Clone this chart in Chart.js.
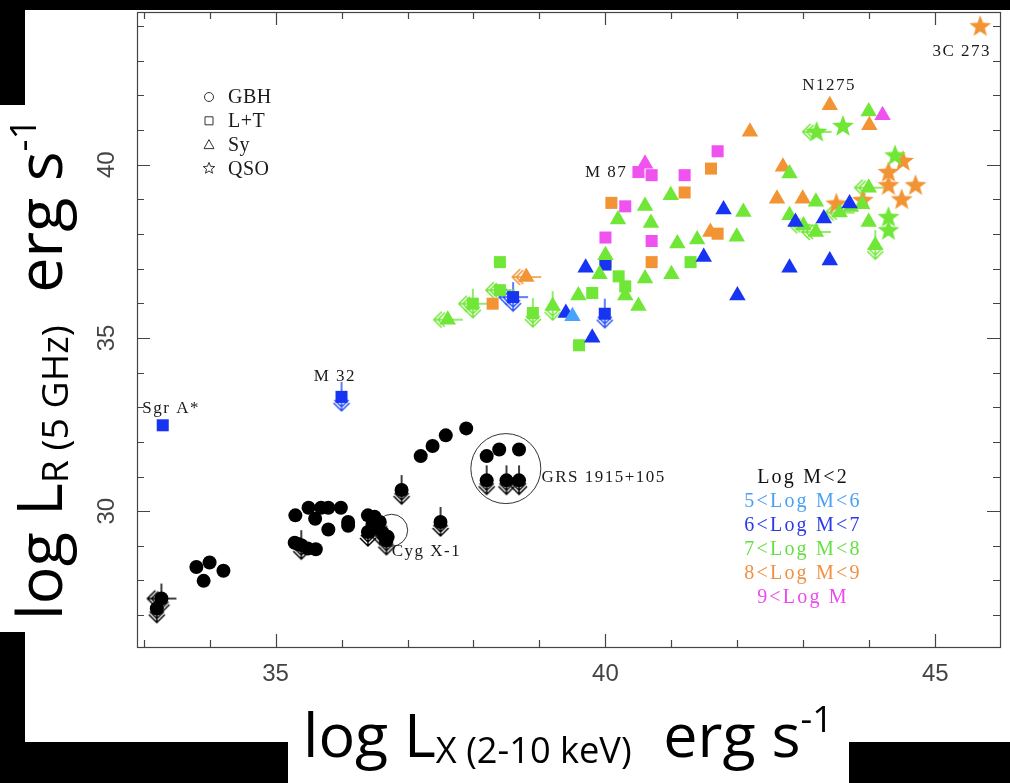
<!DOCTYPE html>
<html>
<head>
<meta charset="utf-8">
<script src="https://cdn.jsdelivr.net/npm/chart.js@4.4.1/dist/chart.umd.min.js"></script>
<style>
  html, body { margin: 0; padding: 0; background: #fff; }
  canvas { display: block; }
</style>
</head>
<body>
<canvas id="myChart" width="1010" height="783"></canvas>
<script>
// axis ranges (log units)
const xMin = 32.9, xMax = 45.98;
const yMin = 26.08, yMax = 44.41;
const xTickLabels = ['35', '40', '45'];
const yTickLabels = ['30', '35', '40'];

// galactic black holes (black circles)
const gbh = [
  [33.27, 27.48], [33.20, 27.19],
  [33.80, 28.39], [34.00, 28.52], [33.91, 27.99], [34.21, 28.28],
  [35.30, 29.88], [35.50, 30.10], [35.60, 29.78], [35.69, 30.10], [35.80, 30.10], [35.99, 30.10],
  [35.80, 29.47], [36.10, 29.69], [36.10, 29.58],
  [35.29, 29.09], [35.39, 29.02], [35.49, 28.92], [35.61, 28.90], [35.34, 29.05],
  [36.40, 29.88], [36.50, 29.84], [36.58, 29.69], [36.40, 29.40], [36.55, 29.50], [36.63, 29.36],
  [36.70, 29.26], [36.68, 29.15], [36.47, 29.62],
  [36.91, 30.61],
  [37.20, 31.59], [37.38, 31.88], [37.58, 32.19], [37.89, 32.39],
  [38.20, 31.59], [38.39, 31.78], [38.69, 31.78], [38.20, 30.89], [38.50, 30.89], [38.69, 30.89],
  [37.50, 29.69]
];

// LINERs + transition objects (squares), by mass bin
const ltBlue = [[33.29, 32.48], [36.00, 33.30], [38.60, 36.18], [39.99, 35.70], [40.00, 37.12]];
const ltGreen = [[38.40, 37.19], [38.40, 36.38], [37.99, 35.99], [38.90, 35.72], [39.60, 34.79],
  [39.80, 36.30], [40.20, 36.78], [40.30, 36.49], [41.29, 37.19]];
const ltOrange = [[38.29, 35.99], [40.00, 37.19], [40.70, 37.19], [41.70, 38.01], [41.20, 39.20],
  [41.60, 39.89], [40.09, 38.90]];
const ltMagenta = [[40.00, 37.90], [40.70, 37.80], [40.50, 39.79], [40.70, 39.70], [41.20, 39.70],
  [41.70, 40.39], [40.30, 38.80]];

// Seyferts (triangles)
const syLight = [[39.50, 35.63]];
const syBlue = [[39.40, 35.72], [39.80, 35.01], [39.70, 37.03], [41.49, 37.34], [41.79, 38.71],
  [42.79, 37.03], [42.00, 36.23], [43.40, 37.24], [43.31, 38.45], [43.70, 38.88], [42.88, 38.35]];
const syGreen = [[37.61, 35.53], [39.20, 35.92], [39.59, 36.23], [40.00, 37.39], [39.91, 36.84],
  [40.30, 36.23], [40.50, 35.92], [40.60, 36.72], [41.00, 36.84], [41.09, 37.73], [41.39, 37.84],
  [40.99, 39.12], [40.60, 38.81], [40.19, 38.42], [40.69, 38.32], [42.09, 38.64], [41.99, 37.92],
  [42.79, 39.75], [42.79, 38.54], [43.19, 38.93], [43.00, 38.25], [43.19, 38.06], [43.99, 41.54],
  [43.99, 39.34], [43.89, 38.86], [43.99, 38.35], [44.09, 37.68], [43.55, 38.62], [43.72, 38.78]];
const syOrange = [[38.80, 36.76], [43.40, 41.72], [42.19, 40.95], [44.00, 41.14], [42.69, 39.94],
  [42.60, 39.02], [42.99, 39.02], [41.59, 38.06]];
const syMagenta = [[40.60, 40.03], [44.20, 41.43]];

// quasars (stars)
const qsoGreen = [[43.20, 40.95], [43.60, 41.12], [44.39, 40.27], [44.29, 38.49], [44.29, 38.11]];
const qsoOrange = [[45.68, 44.00], [44.51, 40.11], [44.29, 39.79], [44.29, 39.41], [44.70, 39.41],
  [44.49, 39.00], [43.90, 38.98], [43.50, 38.88]];

// upper limits
const downBlack = [[33.27, 27.48], [33.20, 27.19], [35.39, 29.02], [36.40, 29.40], [36.58, 29.45],
  [36.68, 29.15], [36.91, 30.61], [37.50, 29.69], [38.20, 30.89], [38.50, 30.89], [38.69, 30.89]];
const leftBlack = [[33.27, 27.48]];
const downGreen = [[37.99, 35.99], [38.90, 35.72], [39.20, 35.92], [44.09, 37.68]];
const leftGreen = [[37.99, 35.99], [37.61, 35.53], [38.40, 36.38], [43.20, 40.95], [43.99, 39.34],
  [43.00, 38.25], [43.19, 38.06], [43.55, 38.62]];
const downBlue = [[36.00, 33.30], [38.60, 36.18], [39.99, 35.70]];
const leftBlue = [[38.60, 36.18]];
const leftOrange = [[38.80, 36.76]];

// circled sources (Cyg X-1, GRS 1915+105)
const rings = [[36.76, 29.45], [38.49, 31.23]];

// source names
const nameText = ['Sgr A*', 'M 32', 'Cyg X-1', 'GRS 1915+105', 'M 87', 'N1275', '3C 273'];
const nameX = [32.98, 35.90, 36.76, 39.03, 39.69, 43.39, 45.40];
const nameY = [32.97, 33.88, 28.85, 30.97, 39.77, 42.29, 43.28];
const nameAlign = ['left', 'center', 'left', 'left', 'left', 'center', 'center'];

const typeNames = ['GBH', 'L+T', 'Sy', 'QSO'];
const massNames = ['Log M<2', '5<Log M<6', '6<Log M<7', '7<Log M<8', '8<Log M<9', '9<Log M'];

const cBlack = '#000000';
const cLight = '#4aa2ff';
const cBlue = '#1634f2';
const cGreen = '#70e636';
const cOrange = '#f29434';
const cMagenta = '#f052f0';
const massColors = ['#111111', '#4aa0f5', '#2a3ae8', '#66e040', '#f09040', '#ee48ee'];

function arrowImage(color, dir) {
  const c = document.createElement('canvas');
  c.width = 34; c.height = 34;
  const g = c.getContext('2d');
  g.strokeStyle = color;
  g.lineWidth = 1.5;
  g.beginPath();
  if (dir === 'down') {
    g.moveTo(17, 2); g.lineTo(17, 31);
    g.moveTo(9, 23); g.lineTo(17, 31); g.lineTo(25, 23);
    g.moveTo(10, 20); g.lineTo(17, 27); g.lineTo(24, 20);
  } else {
    g.moveTo(32, 17); g.lineTo(3, 17);
    g.moveTo(11, 9); g.lineTo(3, 17); g.lineTo(11, 25);
    g.moveTo(14, 10); g.lineTo(7, 17); g.lineTo(14, 24);
  }
  g.stroke();
  return c;
}

function starPath(g, cx, cy, ro, ri) {
  g.beginPath();
  for (let i = 0; i < 10; i++) {
    const r = i % 2 === 0 ? ro : ri;
    const a = -Math.PI / 2 + i * Math.PI / 5;
    const px = cx + r * Math.cos(a), py = cy + r * Math.sin(a);
    if (i === 0) g.moveTo(px, py); else g.lineTo(px, py);
  }
  g.closePath();
}

function starImage(color) {
  const c = document.createElement('canvas');
  c.width = 26; c.height = 26;
  const g = c.getContext('2d');
  g.fillStyle = color;
  starPath(g, 13, 13.5, 11.5, 4.8);
  g.fill();
  return c;
}

const pts = a => a.map(p => ({ x: p[0], y: p[1] }));

function ds(label, arr, style, color, radius, order) {
  return {
    label: label,
    data: pts(arr),
    pointStyle: style,
    pointRadius: radius,
    pointHoverRadius: radius,
    backgroundColor: color,
    borderColor: color,
    borderWidth: 0,
    order: order
  };
}

function drawRich(c, segs, family, target) {
  let total = 0;
  segs.forEach(s => { c.font = s.size + 'px ' + family; total += c.measureText(s.t).width; });
  const k = target / total;
  let x = 0;
  segs.forEach(s => {
    c.font = (s.size * k) + 'px ' + family;
    c.fillText(s.t, x, s.dy * k);
    x += c.measureText(s.t).width;
  });
}

const decor = {
  id: 'decor',
  beforeDraw(chart) {
    const c = chart.ctx;
    c.save();
    c.fillStyle = '#fff';
    c.fillRect(0, 0, chart.width, chart.height);
    c.fillStyle = '#000';
    c.fillRect(0, 0, 1010, 10);
    c.fillRect(0, 0, 25, 105);
    c.fillRect(0, 632, 25, 151);
    c.fillRect(0, 742, 288, 41);
    c.fillRect(849, 742, 161, 41);
    c.restore();
  },
  afterDraw(chart) {
    const c = chart.ctx;
    const a = chart.chartArea;
    const xs = chart.scales.x, ys = chart.scales.y;
    c.save();
    // frame
    c.strokeStyle = '#444';
    c.lineWidth = 1.2;
    c.strokeRect(a.left + 0.5, a.top + 0.5, a.right - a.left, a.bottom - a.top);
    // inward ticks on all four sides
    c.beginPath();
    for (let v = Math.ceil(xMin); v <= Math.floor(xMax); v++) {
      const p = Math.round(xs.getPixelForValue(v)) + 0.5;
      const len = v % 5 === 0 ? 13 : 7;
      c.moveTo(p, a.bottom); c.lineTo(p, a.bottom - len);
      c.moveTo(p, a.top); c.lineTo(p, a.top + len);
    }
    for (let v = Math.ceil(yMin); v <= Math.floor(yMax); v++) {
      const p = Math.round(ys.getPixelForValue(v)) + 0.5;
      const len = v % 5 === 0 ? 13 : 7;
      c.moveTo(a.left, p); c.lineTo(a.left + len, p);
      c.moveTo(a.right, p); c.lineTo(a.right - len, p);
    }
    c.stroke();

    // tick labels
    c.fillStyle = '#444';
    c.font = '24px "Liberation Sans"';
    c.textAlign = 'center';
    c.textBaseline = 'middle';
    xTickLabels.forEach(t => {
      c.fillText(t, xs.getPixelForValue(Number(t)), a.bottom + 27);
    });
    yTickLabels.forEach(t => {
      c.save();
      c.translate(a.left - 30, ys.getPixelForValue(Number(t)));
      c.rotate(-Math.PI / 2);
      c.fillText(t, 0, 0);
      c.restore();
    });

    // source names
    c.fillStyle = '#1a1a1a';
    c.font = '17px "Liberation Serif"';
    c.letterSpacing = '1.5px';
    c.textBaseline = 'middle';
    nameText.forEach((t, i) => {
      c.textAlign = nameAlign[i];
      c.fillText(t, xs.getPixelForValue(nameX[i]), ys.getPixelForValue(nameY[i]));
    });

    // symbol key (top left)
    c.font = '20px "Liberation Serif"';
    c.letterSpacing = '0.5px';
    c.textAlign = 'left';
    c.strokeStyle = '#333';
    c.lineWidth = 1;
    typeNames.forEach((t, i) => {
      const y = 97 + i * 23.8;
      const x = 209;
      c.beginPath();
      if (i === 0) c.arc(x, y, 4.5, 0, Math.PI * 2);
      else if (i === 1) c.rect(x - 4, y - 4, 8, 8);
      else if (i === 2) { c.moveTo(x, y - 5); c.lineTo(x + 5, y + 4); c.lineTo(x - 5, y + 4); c.closePath(); }
      else starPath(c, x, y, 6, 2.6);
      c.stroke();
      c.fillStyle = '#1a1a1a';
      c.fillText(t, 228, y + 1);
    });

    // mass key (bottom right)
    c.font = '20px "Liberation Serif"';
    c.letterSpacing = '2.2px';
    c.textAlign = 'center';
    massNames.forEach((t, i) => {
      c.fillStyle = massColors[i];
      c.fillText(t, 803, 478 + i * 24);
    });
    c.letterSpacing = '0px';

    // axis titles
    c.fillStyle = '#000';
    c.textAlign = 'left';
    c.textBaseline = 'alphabetic';
    const fam = '"Open Sans"';
    c.save();
    c.translate(303, 757);
    drawRich(c, [
      { t: 'log L', size: 64, dy: 0 },
      { t: 'X (2-10 keV)', size: 38, dy: 6 },
      { t: '  erg s', size: 64, dy: 0 },
      { t: '-1', size: 38, dy: -26 }
    ], fam, 530);
    c.restore();
    c.save();
    c.translate(62, 620);
    c.rotate(-Math.PI / 2);
    drawRich(c, [
      { t: 'log L', size: 64, dy: 0 },
      { t: 'R (5 GHz)', size: 38, dy: 6 },
      { t: '  erg s', size: 64, dy: 0 },
      { t: '-1', size: 38, dy: -26 }
    ], fam, 502);
    c.restore();
    c.restore();
  }
};

const arrowDownBlack = arrowImage(cBlack, 'down');
const arrowLeftBlack = arrowImage(cBlack, 'left');
const arrowDownGreen = arrowImage(cGreen, 'down');
const arrowLeftGreen = arrowImage(cGreen, 'left');
const arrowDownBlue = arrowImage('#2a55f5', 'down');
const arrowLeftBlue = arrowImage('#2a55f5', 'left');
const arrowLeftOrange = arrowImage(cOrange, 'left');

const ringSet = ds('rings', rings, 'circle', 'rgba(0,0,0,0)', 10, 5);
ringSet.pointRadius = [16, 35];
ringSet.pointHoverRadius = [16, 35];
ringSet.borderColor = '#333';
ringSet.borderWidth = 1;

const ctx = document.getElementById('myChart');
new Chart(ctx, {
  type: 'scatter',
  data: {
    datasets: [
      ringSet,
      ds('down black', downBlack, arrowDownBlack, cBlack, 10, 4),
      ds('left black', leftBlack, arrowLeftBlack, cBlack, 10, 4),
      ds('down green', downGreen, arrowDownGreen, cGreen, 10, 4),
      ds('left green', leftGreen, arrowLeftGreen, cGreen, 10, 4),
      ds('down blue', downBlue, arrowDownBlue, cBlue, 10, 4),
      ds('left blue', leftBlue, arrowLeftBlue, cBlue, 10, 4),
      ds('left orange', leftOrange, arrowLeftOrange, cOrange, 10, 4),
      ds('GBH', gbh, 'circle', cBlack, 7, 2),
      ds('L+T 6-7', ltBlue, 'rect', cBlue, 8.5, 2),
      ds('L+T 7-8', ltGreen, 'rect', cGreen, 8.5, 2),
      ds('L+T 8-9', ltOrange, 'rect', cOrange, 8.5, 2),
      ds('L+T 9+', ltMagenta, 'rect', cMagenta, 8.5, 2),
      ds('Sy 5-6', syLight, 'triangle', cLight, 9.5, 1),
      ds('Sy 6-7', syBlue, 'triangle', cBlue, 9.5, 1),
      ds('Sy 7-8', syGreen, 'triangle', cGreen, 9.5, 1),
      ds('Sy 8-9', syOrange, 'triangle', cOrange, 9.5, 1),
      ds('Sy 9+', syMagenta, 'triangle', cMagenta, 9.5, 1),
      ds('QSO 7-8', qsoGreen, starImage(cGreen), cGreen, 10, 1),
      ds('QSO 8-9', qsoOrange, starImage(cOrange), cOrange, 10, 1)
    ]
  },
  options: {
    responsive: false,
    animation: false,
    events: [],
    layout: { autoPadding: false, padding: { left: 137, right: 10, top: 12, bottom: 136 } },
    plugins: {
      legend: { display: false },
      tooltip: { enabled: false }
    },
    scales: {
      x: { type: 'linear', min: xMin, max: xMax, display: false },
      y: { type: 'linear', min: yMin, max: yMax, display: false }
    }
  },
  plugins: [decor]
});
</script>
</body>
</html>
